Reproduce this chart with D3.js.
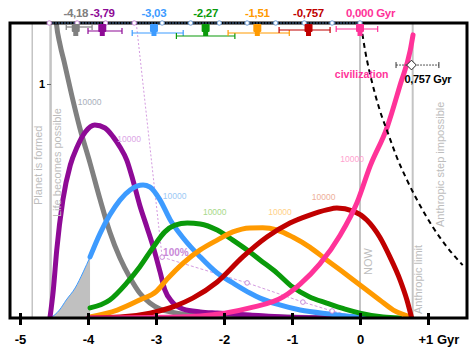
<!DOCTYPE html>
<html><head><meta charset="utf-8">
<script src="https://cdn.jsdelivr.net/npm/d3@7"></script>
<style>body{margin:0;background:#fff}svg{display:block;font-family:"Liberation Sans",Arial,sans-serif}</style>
</head><body><svg id="c" width="473" height="358"></svg>
<script>
// ---------- data ----------
const xTicks = [-5, -4, -3, -2, -1, 0, 1];
const xTickLabels = ["-5", "-4", "-3", "-2", "-1", "0", "+1 Gyr"];
const yTicks = [1];
const stepColors = ["#808080", "#8e0a96", "#3d9bff", "#0a9a0a", "#ff9a00", "#c00000", "#ff3399"];
const stepLightColors = ["#a9b0bb", "#dca6e6", "#9cc9f5", "#a8d98a", "#ffd28a", "#eeb09a", "#ffa3cf"];
const stepMeans = [-4.18, -3.79, -3.03, -2.27, -1.51, -0.757, 0];
const stepMeanLabels = ["-4,18", "-3,79", "-3,03", "-2,27", "-1,51", "-0,757", "0,000 Gyr"];
const stepErrLo = [-4.32, -4.0, -3.35, -2.70, -1.94, -1.19, -0.35];
const stepErrHi = [-3.94, -3.5, -2.60, -1.84, -1.04, -0.44, 0.26];
const countLabel = "10000";
const countLabelPos = [[-4.15, 0.91], [-3.57, 0.752], [-2.90, 0.509], [-2.31, 0.44], [-1.35, 0.44], [-0.71, 0.504], [-0.29, 0.667]];

const curveGray = [[-4.50,1.40],[-4.47,1.274],[-4.41,1.167],[-4.35,1.094],[-4.24,0.953],[-4.12,0.812],[-3.97,0.662],[-3.82,0.504],[-3.68,0.368],[-3.53,0.256],[-3.38,0.171],[-3.24,0.107],[-3.09,0.064],[-2.94,0.038],[-2.79,0.026],[-2.57,0.015],[-2.06,0.008],[-1.18,0.004],[-0.29,0.0]];
const curvePurple = [[-4.56,0],[-4.51,0.12],[-4.46,0.29],[-4.37,0.504],[-4.26,0.654],[-4.16,0.731],[-4.04,0.795],[-3.90,0.825],[-3.75,0.812],[-3.63,0.774],[-3.53,0.731],[-3.43,0.675],[-3.34,0.59],[-3.24,0.483],[-3.13,0.385],[-3.04,0.303],[-2.94,0.197],[-2.87,0.12],[-2.76,0.068],[-2.60,0.038],[-2.35,0.026],[-2.10,0.021],[-1.62,0.013],[-1.13,0.004],[-0.44,0]];
const curveBlueEarly = [[-4.55,0],[-4.42,0.034],[-4.32,0.077],[-4.19,0.128],[-4.07,0.197],[-3.97,0.261]];
const curveBlue = [[-3.97,0.261],[-3.82,0.363],[-3.68,0.44],[-3.53,0.504],[-3.38,0.547],[-3.19,0.568],[-3.09,0.56],[-2.94,0.504],[-2.79,0.419],[-2.60,0.342],[-2.35,0.261],[-2.10,0.192],[-1.87,0.15],[-1.62,0.107],[-1.47,0.085],[-1.18,0.056],[-0.88,0.034],[-0.44,0.017],[0,0.004],[0.44,0]];
const curveGreen = [[-3.97,0.043],[-3.68,0.077],[-3.43,0.15],[-3.24,0.218],[-3.04,0.303],[-2.87,0.368],[-2.72,0.397],[-2.54,0.406],[-2.35,0.402],[-2.10,0.376],[-1.87,0.333],[-1.62,0.282],[-1.47,0.248],[-1.22,0.192],[-0.99,0.132],[-0.74,0.09],[-0.49,0.064],[-0.22,0.038],[0,0.021],[0.34,0.004],[0.59,0]];
const curveOrange = [[-3.97,0.004],[-3.57,0.034],[-3.24,0.077],[-2.99,0.115],[-2.84,0.165],[-2.60,0.235],[-2.35,0.291],[-2.10,0.333],[-1.87,0.368],[-1.62,0.385],[-1.43,0.386],[-1.22,0.376],[-0.99,0.346],[-0.74,0.303],[-0.49,0.248],[-0.29,0.205],[0,0.141],[0.29,0.077],[0.49,0.034],[0.69,0.009],[0.76,0]];
const curveRed = [[-3.97,0],[-3.53,0.004],[-3.09,0.021],[-2.72,0.051],[-2.46,0.085],[-2.10,0.154],[-1.72,0.262],[-1.37,0.346],[-1.03,0.406],[-0.74,0.44],[-0.49,0.462],[-0.34,0.47],[-0.10,0.457],[0.10,0.419],[0.29,0.346],[0.44,0.261],[0.59,0.162],[0.69,0.077],[0.76,0]];
const curvePink = [[-4.0,0],[-3.09,0.002],[-2.35,0.009],[-1.62,0.043],[-1.13,0.09],[-0.88,0.145],[-0.59,0.231],[-0.29,0.355],[-0.04,0.496],[0.15,0.65],[0.40,0.816],[0.59,0.996],[0.74,1.145],[0.78,1.21]];
const curveDeadline = [[0.015,1.252],[0.074,1.145],[0.18,1.004],[0.29,0.889],[0.41,0.791],[0.54,0.688],[0.69,0.59],[0.84,0.504],[1.07,0.389],[1.28,0.303],[1.51,0.226]];
const cumulativeDrop = [[-3.29,1.26],[-2.91,0.26]];
const cumulativeTail = [[-2.91,0.26],[-1.66,0.15],[-0.84,0.068],[-0.41,0.03],[-0.15,0.012]];
const cumulativeMarks = [[-2.91,0.26],[-1.66,0.15],[-0.84,0.068],[-0.41,0.03]];
const topGrid = [-4.57,-4.16,-3.74,-3.32,-2.91,-2.49,-2.07,-1.66,-1.24,-0.82,-0.41,0];
const events = [
  {x: -4.82, label: "Planet is formed", w: 1.5},
  {x: -4.55, label: "Life becomes possible", w: 2.5},
  {x: 0, label: "NOW", w: 2},
  {x: 0.775, label: "Anthropic limit", w: 2}
];
const deadlineLabel = "Anthropic step impossible";
const civLabel = "civilization";
const limitMean = 0.757, limitLo = 0.53, limitHi = 1.16, limitLevel = 1.081;
const limitLabel = "0,757 Gyr";
const pctLabel = "100%";

// ---------- layout ----------
const L = 10, R = 467, T = 23, B = 318;
const x = d3.scaleLinear().domain([-5, 1]).range([20, 428]);
const y = d3.scaleLinear().domain([0, 1]).range([B, 84]);
const svg = d3.select("#c");
const line = d3.line().x(d => x(d[0])).y(d => y(d[1])).curve(d3.curveMonotoneX);
const lineLin = d3.line().x(d => x(d[0])).y(d => y(d[1]));

svg.append("defs").append("clipPath").attr("id", "clip")
  .append("rect").attr("x", L).attr("y", T).attr("width", R - L).attr("height", B - T);
const plot = svg.append("g").attr("clip-path", "url(#clip)");

// event lines
plot.selectAll("line.ev").data(events).join("line")
  .attr("x1", d => x(d.x)).attr("x2", d => x(d.x)).attr("y1", T).attr("y2", B)
  .attr("stroke", "#c4c4c4").attr("stroke-width", d => d.w);

// rotated event labels
const evText = [
  {x: -4.82, dx: 10, y0: 205},
  {x: -4.55, dx: 10, y0: 217},
  {x: 0, dx: 12, y0: 275},
  {x: 0.775, dx: 9, y0: 314}
];
evText.forEach((e, i) => {
  svg.append("text").attr("transform", `translate(${x(e.x) + e.dx},${e.y0}) rotate(-90)`)
    .attr("font-size", 11).attr("fill", "#bdbdbd").text(events[i].label);
});
svg.append("text").attr("transform", `translate(${x(1.23)},227) rotate(-90)`)
  .attr("font-size", 11).attr("fill", "#bdbdbd").text(deadlineLabel);

// shaded early region
const area = d3.area().x(d => x(d[0])).y0(B).y1(d => y(d[1])).curve(d3.curveMonotoneX);
plot.append("path").datum(curveBlueEarly).attr("d", area).attr("fill", "#c0c0c0");
plot.append("path").datum(curveBlueEarly).attr("d", line).attr("fill", "none")
  .attr("stroke", stepColors[2]).attr("stroke-width", 1);

// cumulative line
plot.append("path").datum(cumulativeDrop).attr("d", lineLin).attr("fill", "none")
  .attr("stroke", "#d49be0").attr("stroke-width", 1).attr("stroke-dasharray", "2,2");
plot.append("path").datum(cumulativeTail).attr("d", lineLin).attr("fill", "none")
  .attr("stroke", "#d49be0").attr("stroke-width", 1).attr("stroke-dasharray", "3,2");

// curves
const curves = [curveGray, curvePurple, curveBlue, curveGreen, curveOrange, curveRed, curvePink];
curves.forEach((c, i) => {
  plot.append("path").datum(c).attr("d", line).attr("fill", "none")
    .attr("stroke", stepColors[i]).attr("stroke-width", 5).attr("stroke-linecap", "round");
});

plot.selectAll("circle.cm").data(cumulativeMarks).join("circle")
  .attr("cx", d => x(d[0])).attr("cy", d => y(d[1])).attr("r", 2.3)
  .attr("fill", "#fff").attr("stroke", "#c98ad8").attr("stroke-width", 1);

// deadline dashed
plot.append("path").datum(curveDeadline).attr("d", line).attr("fill", "none")
  .attr("stroke", "#000").attr("stroke-width", 2).attr("stroke-dasharray", "5,4");

// count labels
svg.selectAll("text.cnt").data(countLabelPos).join("text")
  .attr("x", d => x(d[0])).attr("y", d => y(d[1]))
  .attr("font-size", 8.5).attr("fill", (d, i) => stepLightColors[i]).text(countLabel);

svg.append("text").attr("x", x(-2.91) + 1).attr("y", y(0.26) - 1)
  .attr("font-size", 10).attr("font-weight", "bold").attr("fill", "#c98ad8").text(pctLabel);

// civilization + limit marker
svg.append("text").attr("x", x(-0.37)).attr("y", 78).attr("font-size", 10.5)
  .attr("font-weight", "bold").attr("fill", stepColors[6]).text(civLabel);
const ly = y(limitLevel);
svg.append("line").attr("x1", x(limitLo)).attr("x2", x(limitHi)).attr("y1", ly).attr("y2", ly)
  .attr("stroke", "#555").attr("stroke-width", 1).attr("stroke-dasharray", "2,1");
[limitLo, limitHi].forEach(v => svg.append("line").attr("x1", x(v)).attr("x2", x(v))
  .attr("y1", ly - 3).attr("y2", ly + 3).attr("stroke", "#333").attr("stroke-width", 1));
svg.append("path").attr("d", d3.symbol(d3.symbolDiamond2, 60)())
  .attr("transform", `translate(${x(limitMean)},${ly})`)
  .attr("fill", "#fff").attr("stroke", "#222").attr("stroke-width", 1);
svg.append("text").attr("x", x(limitMean) - 7).attr("y", 83).attr("font-size", 11)
  .attr("font-weight", "bold").attr("fill", "#000").attr("letter-spacing", -0.3).text(limitLabel);

// frame
svg.append("path").attr("d", `M${L},${T}V${B}H${R}V${T}Z`).attr("fill", "none")
  .attr("stroke", "#000").attr("stroke-width", 3);
svg.append("line").attr("x1", x(topGrid[0])).attr("x2", x(0)).attr("y1", T).attr("y2", T)
  .attr("stroke", "#5a8cc8").attr("stroke-width", 1.2).attr("stroke-dasharray", "1.5,1.5");
svg.selectAll("circle.tg").data(topGrid).join("circle")
  .attr("cx", d => x(d)).attr("cy", T).attr("r", 2.2)
  .attr("fill", "#fff").attr("stroke", (d, i) => i < 4 ? "#c98ad8" : "#6f9fd8").attr("stroke-width", 1);

// x axis
const xa = svg.append("g").attr("transform", `translate(0,${B})`)
  .call(d3.axisBottom(x).tickValues(xTicks).tickFormat((d, i) => xTickLabels[i]).tickSizeOuter(0));
xa.select(".domain").remove();
xa.selectAll(".tick line").attr("y1", -5).attr("y2", 7).attr("stroke", "#000").attr("stroke-width", 3);
xa.selectAll(".tick text").attr("y", 17).attr("font-size", 13).attr("font-weight", "bold")
  .attr("fill", "#000").attr("font-family", "Liberation Sans, Arial, sans-serif");
xa.selectAll(".tick text").filter((d, i) => i === xTicks.length - 1)
  .attr("text-anchor", "start").attr("x", -10);

// y axis
const ya = svg.append("g").attr("transform", `translate(51,0)`)
  .call(d3.axisLeft(y).tickValues(yTicks).tickSize(4).tickPadding(2).tickFormat(d3.format("d")));
ya.select(".domain").remove();
ya.selectAll(".tick line").attr("stroke", "#666");
ya.selectAll(".tick text").attr("font-size", 11).attr("font-weight", "bold").attr("fill", "#000")
  .attr("font-family", "Liberation Sans, Arial, sans-serif");

// top markers
const errRow = [27, 31, 33, 36, 33, 30, 29];
stepMeans.forEach((m, i) => {
  const c = stepColors[i], ey = errRow[i];
  svg.append("line").attr("x1", x(stepErrLo[i])).attr("x2", x(stepErrHi[i])).attr("y1", ey).attr("y2", ey)
    .attr("stroke", c).attr("stroke-width", 1.2);
  [stepErrLo[i], stepErrHi[i]].forEach(v => svg.append("line").attr("x1", x(v)).attr("x2", x(v))
    .attr("y1", ey - 3).attr("y2", ey + 3).attr("stroke", c).attr("stroke-width", 1.2));
  svg.append("rect").attr("x", x(m) - 4).attr("y", 24).attr("width", 8).attr("height", 8).attr("rx", 1).attr("fill", c);
  svg.append("rect").attr("x", x(m) - 2.5).attr("y", 31).attr("width", 5).attr("height", 5).attr("fill", c);
  const t = svg.append("text").attr("y", 17).attr("font-size", 11.5).attr("font-weight", "bold")
    .attr("fill", c).attr("letter-spacing", -0.3).text(stepMeanLabels[i]);
  if (i === stepMeans.length - 1) t.attr("x", x(m) - 14).attr("text-anchor", "start");
  else t.attr("x", x(m)).attr("text-anchor", "middle");
});
</script></body></html>
